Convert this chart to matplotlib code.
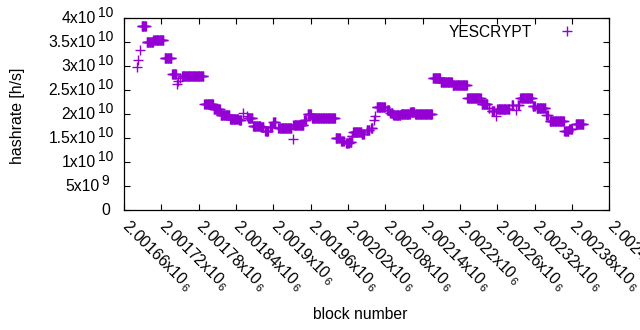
import numpy as np
import matplotlib
matplotlib.use("Agg")
import matplotlib.pyplot as plt
from matplotlib.ticker import FixedLocator

plt.rcParams['font.family'] = ['Liberation Sans', 'DejaVu Sans']
plt.rcParams['mathtext.fontset'] = 'custom'
plt.rcParams['mathtext.rm'] = 'Liberation Sans'
plt.rcParams['mathtext.it'] = 'Liberation Sans'

# runs of blocks with the same hashrate: first block, last block, rate (x1e10 h/s)
run_start = [2001680, 2001683, 2001686, 2001688, 2001696, 2001707, 2001725, 2001737,
             2001745, 2001746, 2001749, 2001753, 2001789, 2001804, 2001815, 2001830,
             2001845, 2001851, 2001857, 2001859, 2001867, 2001880, 2001887, 2001894,
             2001900, 2001908, 2001931, 2001932, 2001949, 2001955, 2001962, 2002000,
             2002009, 2002017, 2002022, 2002026, 2002028, 2002042, 2002050, 2002057,
             2002062, 2002064, 2002066, 2002083, 2002088, 2002093, 2002105, 2002120,
             2002128, 2002156, 2002169, 2002188, 2002212, 2002235, 2002246, 2002251,
             2002258, 2002260, 2002276, 2002283, 2002290, 2002293, 2002297, 2002317,
             2002323, 2002339, 2002344, 2002368, 2002376, 2002386]
run_end = [2001680, 2001683, 2001686, 2001695, 2001706, 2001723, 2001736, 2001743,
           2001745, 2001746, 2001749, 2001787, 2001803, 2001814, 2001829, 2001843,
           2001848, 2001851, 2001857, 2001866, 2001879, 2001884, 2001891, 2001897,
           2001903, 2001929, 2001931, 2001948, 2001952, 2001960, 2001999, 2002007,
           2002013, 2002021, 2002025, 2002027, 2002041, 2002045, 2002054, 2002059,
           2002062, 2002064, 2002079, 2002086, 2002091, 2002104, 2002119, 2002126,
           2002155, 2002168, 2002187, 2002211, 2002233, 2002244, 2002247, 2002255,
           2002258, 2002274, 2002279, 2002285, 2002290, 2002295, 2002315, 2002320,
           2002337, 2002341, 2002367, 2002374, 2002380, 2002398]
run_rate = [2.97, 3.125, 3.33, 3.83, 3.49, 3.535, 3.16, 2.83,
            2.62, 2.69, 2.74, 2.785, 2.20, 2.10, 1.98, 1.90,
            1.875, 2.03, 1.96, 1.91, 1.76, 1.72, 1.65, 1.735,
            1.83, 1.70, 1.48, 1.77, 1.875, 1.99, 1.91, 1.49,
            1.44, 1.39, 1.42, 1.54, 1.62, 1.58, 1.67, 1.70,
            1.87, 1.95, 2.15, 2.08, 2.03, 1.98, 2.01, 2.04,
            2.01, 2.76, 2.66, 2.61, 2.33, 2.21, 2.12, 2.07,
            1.96, 2.10, 2.11, 2.19, 2.08, 2.19, 2.33, 2.17,
            2.12, 1.98, 1.85, 1.65, 1.68, 1.785]

x_ticks = [2001660 + 60 * i for i in range(14)]
y_ticks = [0, 5e9, 1e10, 1.5e10, 2e10, 2.5e10, 3e10, 3.5e10, 4e10]
y_base = ['0', '5x10', '1x10', '1.5x10', '2x10', '2.5x10', '3x10', '3.5x10', '4x10']
y_exp = ['', '9', '10', '10', '10', '10', '10', '10', '10']

blocks = []
rates = []
for s, e, r in zip(run_start, run_end, run_rate):
    for b in range(s, e + 1):
        blocks.append(b)
        rates.append(r * 1e10)

fig = plt.figure(figsize=(6.4, 3.3), dpi=100)
ax = fig.add_axes([0.194, 0.3636, 0.758, 0.5818])

ax.plot(blocks, rates, linestyle='none', marker='+', markersize=6.5,
        markeredgewidth=1.0, color='#9400D3', label='YESCRYPT')

ax.set_xlim(2001660, 2002440)
ax.set_ylim(0, 4e10)
ax.xaxis.set_major_locator(FixedLocator(x_ticks))
ax.set_xticklabels(['%gx10$_{\\,6}$' % (t / 1e6) for t in x_ticks],
                   rotation=-45, ha='left', va='center', rotation_mode='anchor', fontsize=11.3)
ax.tick_params(direction='in', length=4, width=0.8, top=True, right=True, colors='black')
ax.tick_params(axis='x', pad=9.5)

# y tick labels gnuplot style: mantissa plus raised exponent
ax.set_yticks(y_ticks)
ax.set_yticklabels([])
for val, base, ex in zip(y_ticks, y_base, y_exp):
    if ex:
        right = -11 if len(ex) > 1 else -15
        sup = ax.annotate(ex, xy=(0, val), xycoords=('axes fraction', 'data'),
                          xytext=(right, 5), textcoords='offset pixels',
                          ha='right', va='center', fontsize=10)
        ax.annotate(base, xy=(0, 0.5), xycoords=sup, xytext=(-2, -5),
                    textcoords='offset pixels', ha='right', va='center', fontsize=11.3)
    else:
        ax.annotate(base, xy=(0, val), xycoords=('axes fraction', 'data'),
                    xytext=(-14, 0), textcoords='offset pixels',
                    ha='right', va='center', fontsize=11.3)

for sp in ax.spines.values():
    sp.set_linewidth(0.9)

ax.set_xlabel('block number', fontsize=11.3)
ax.set_ylabel('hashrate [h/s]', fontsize=11.4)
ax.xaxis.set_label_coords(0.487, -0.505)
ax.yaxis.set_label_coords(-0.205, 0.49)

ax.legend(loc='center right', markerfirst=False, frameon=False, fontsize=11.2,
          handlelength=2.0, handletextpad=1.29, borderpad=0, borderaxespad=0,
          bbox_to_anchor=(0.945, 0.927))

fig.savefig('out.png', dpi=100)
